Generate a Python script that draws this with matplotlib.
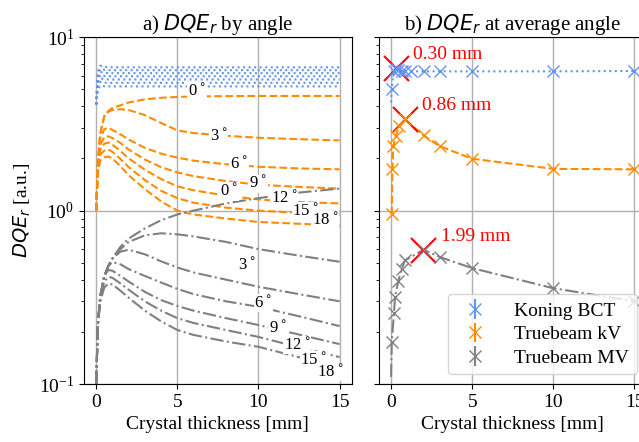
import numpy as np
import matplotlib
matplotlib.use("Agg")
import matplotlib.pyplot as plt

plt.rcParams['font.family'] = ['Liberation Serif', 'DejaVu Serif']
plt.rcParams['mathtext.fontset'] = 'dejavusans'
plt.rcParams['font.size'] = 14

# ---- a) DQE_r by angle ----
angles = [0, 3, 6, 9, 12, 15, 18]
thick = [0, 0.1, 0.25, 0.5, 0.75, 1, 1.5, 2, 3, 4, 5, 6, 8, 10, 12.5, 15]

bct_curves = [
    [4.1, 6.3, 6.85, 6.75, 6.7, 6.7, 6.7, 6.7, 6.7, 6.7, 6.7, 6.7, 6.7, 6.7, 6.7, 6.7],
    [4.1, 6.05, 6.55, 6.48, 6.45, 6.45, 6.45, 6.45, 6.45, 6.45, 6.45, 6.45, 6.45, 6.45, 6.45, 6.45],
    [4.1, 5.85, 6.3, 6.22, 6.2, 6.2, 6.2, 6.2, 6.2, 6.2, 6.2, 6.2, 6.2, 6.2, 6.2, 6.2],
    [4.1, 5.65, 6.05, 5.97, 5.95, 5.95, 5.95, 5.95, 5.95, 5.95, 5.95, 5.95, 5.95, 5.95, 5.95, 5.95],
    [4.1, 5.45, 5.78, 5.72, 5.7, 5.7, 5.7, 5.7, 5.7, 5.7, 5.7, 5.7, 5.7, 5.7, 5.7, 5.7],
    [4.1, 5.2, 5.52, 5.47, 5.45, 5.45, 5.45, 5.45, 5.45, 5.45, 5.45, 5.45, 5.45, 5.45, 5.45, 5.45],
    [4.1, 5.0, 5.25, 5.21, 5.2, 5.2, 5.2, 5.2, 5.2, 5.2, 5.2, 5.2, 5.2, 5.2, 5.2, 5.2],
]
kv_curves = [
    [1.0, 1.9, 2.8, 3.5, 3.75, 3.9, 4.05, 4.2, 4.38, 4.47, 4.52, 4.55, 4.57, 4.58, 4.58, 4.58],
    [1.0, 1.9, 2.8, 3.5, 3.72, 3.8, 3.84, 3.8, 3.55, 3.2, 2.9, 2.8, 2.7, 2.63, 2.58, 2.54],
    [1.0, 1.85, 2.6, 2.95, 3.0, 2.92, 2.75, 2.57, 2.3, 2.13, 2.02, 1.94, 1.85, 1.79, 1.75, 1.73],
    [1.0, 1.8, 2.4, 2.65, 2.68, 2.62, 2.45, 2.25, 1.97, 1.78, 1.66, 1.58, 1.48, 1.41, 1.37, 1.34],
    [1.0, 1.75, 2.25, 2.43, 2.47, 2.4, 2.2, 2.0, 1.72, 1.52, 1.38, 1.31, 1.22, 1.16, 1.12, 1.10],
    [1.0, 1.7, 2.1, 2.22, 2.25, 2.18, 1.98, 1.78, 1.5, 1.3, 1.18, 1.11, 1.04, 1.0, 0.97, 0.95],
    [1.0, 1.65, 1.95, 2.03, 2.05, 2.0, 1.8, 1.6, 1.33, 1.13, 1.0, 0.95, 0.9, 0.86, 0.84, 0.82],
]
mv_curves = [
    [0.1, 0.22, 0.32, 0.42, 0.48, 0.53, 0.62, 0.69, 0.79, 0.88, 0.95, 1.0, 1.1, 1.18, 1.27, 1.34],
    [0.1, 0.22, 0.32, 0.42, 0.48, 0.53, 0.6, 0.66, 0.72, 0.74, 0.73, 0.71, 0.66, 0.6, 0.55, 0.507],
    [0.1, 0.22, 0.32, 0.42, 0.48, 0.53, 0.58, 0.595, 0.56, 0.51, 0.47, 0.44, 0.4, 0.364, 0.33, 0.30],
    [0.1, 0.22, 0.32, 0.42, 0.48, 0.505, 0.49, 0.46, 0.42, 0.385, 0.354, 0.33, 0.3, 0.279, 0.246, 0.216],
    [0.1, 0.22, 0.32, 0.42, 0.455, 0.45, 0.42, 0.39, 0.34, 0.305, 0.282, 0.265, 0.24, 0.219, 0.193, 0.170],
    [0.1, 0.22, 0.31, 0.39, 0.415, 0.41, 0.38, 0.35, 0.3, 0.265, 0.24, 0.225, 0.205, 0.187, 0.163, 0.143],
    [0.1, 0.21, 0.3, 0.36, 0.38, 0.375, 0.345, 0.315, 0.265, 0.23, 0.205, 0.192, 0.176, 0.164, 0.143, 0.124],
]

# inline label positions (x, y) per angle
kv_lab = [(6.2, 4.87), (7.55, 2.68), (8.8, 1.84), (10.0, 1.43), (11.6, 1.17), (12.9, 0.99), (14.1, 0.88)]
mv_lab = [(8.2, 1.29), (9.3, 0.487), (10.3, 0.294), (11.2, 0.21), (12.4, 0.168), (13.4, 0.138), (14.4, 0.117)]

# ---- b) DQE_r at average angle ----
bct_x = [0.0, 0.04, 0.15, 0.3, 0.45, 0.65, 0.85, 1.25, 2, 3, 5, 10, 15]
bct_y = [4.2, 5.0, 6.4, 6.55, 6.45, 6.4, 6.38, 6.35, 6.35, 6.35, 6.35, 6.35, 6.38]
kv_x = [0.04, 0.08, 0.14, 0.29, 0.51, 0.85, 2, 3, 5, 10, 15]
kv_y = [0.95, 1.73, 2.35, 2.69, 3.07, 3.36, 2.71, 2.35, 1.99, 1.74, 1.73]
mv_x = [0.0, 0.04, 0.18, 0.24, 0.45, 0.65, 0.85, 2, 3, 5, 10, 15]
mv_y = [0.11, 0.176, 0.258, 0.317, 0.395, 0.46, 0.516, 0.595, 0.54, 0.466, 0.357, 0.30]

opt_x = [0.30, 0.86, 1.99]
opt_y = [6.6, 3.36, 0.595]
opt_txt = ["0.30 mm", "0.86 mm", "1.99 mm"]
opt_txt_pos = [(1.35, 7.9), (1.9, 4.05), (3.05, 0.71)]

c_bct, c_kv, c_mv = 'cornflowerblue', 'darkorange', 'gray'

fig = plt.figure(figsize=(6.39, 4.42), dpi=100)
ax1 = fig.add_axes([0.1315, 0.131, 0.419, 0.785])
ax2 = fig.add_axes([0.593, 0.131, 0.419, 0.785], sharey=ax1)

for y in bct_curves:
    ax1.plot(thick, y, color=c_bct, ls=':', lw=1.5)
for y in kv_curves:
    ax1.plot(thick, y, color=c_kv, ls='--', lw=1.5)
for y in mv_curves:
    ax1.plot(thick, y, color=c_mv, ls='-.', lw=1.5)

box = dict(facecolor='white', edgecolor='none', pad=0.5)
for a, (x, y) in zip(angles, kv_lab):
    ax1.text(x, y, f"{a}$^\\circ$", fontsize=12, ha='center', va='center', bbox=box)
for a, (x, y) in zip(angles, mv_lab):
    ax1.text(x, y, f"{a}$^\\circ$", fontsize=12, ha='center', va='center', bbox=box)

ax1.set_yscale('log')
ax1.set_ylim(0.1, 10)
ax1.set_xticks([0, 5, 10, 15])
ax1.grid(True, which='major', color='#b0b0b0', lw=1)
ax1.set_axisbelow(True)
ax1.set_xlabel('Crystal thickness [mm]')
ax1.set_ylabel('$DQE_r$ [a.u.]')
ax1.set_title('a) $DQE_r$ by angle', fontsize=15, pad=4)

# right panel: connecting lines, then the points as errorbars
ax2.plot(bct_x, bct_y, color=c_bct, ls=':', lw=1.5)
ax2.plot(kv_x, kv_y, color=c_kv, ls='--', lw=1.5)
ax2.plot(mv_x, mv_y, color=c_mv, ls='-.', lw=1.5)
ax2.errorbar(bct_x[1:], bct_y[1:], yerr=0, fmt='x', color=c_bct, ms=8, label='Koning BCT')
ax2.errorbar(kv_x, kv_y, yerr=0, fmt='x', color=c_kv, ms=8, label='Truebeam kV')
ax2.errorbar(mv_x[1:], mv_y[1:], yerr=0, fmt='x', color=c_mv, ms=8, label='Truebeam MV')
ax2.plot(opt_x, opt_y, ls='none', marker='x', color='red', ms=18, mew=1.5)
for t, (x, y) in zip(opt_txt, opt_txt_pos):
    ax2.text(x, y, t, color='red', fontsize=14, ha='left', va='center')

ax2.set_xticks([0, 5, 10, 15])
ax2.tick_params(axis='y', which='both', labelleft=False)
ax2.grid(True, which='major', color='#b0b0b0', lw=1)
ax2.set_axisbelow(True)
ax2.set_xlabel('Crystal thickness [mm]')
ax2.set_title('b) $DQE_r$ at average angle', fontsize=15, pad=4)
ax2.legend(loc='lower right', fontsize=14, handlelength=2.0, handletextpad=1.0,
           labelspacing=0.3)

fig.savefig('out.png', dpi=100)
